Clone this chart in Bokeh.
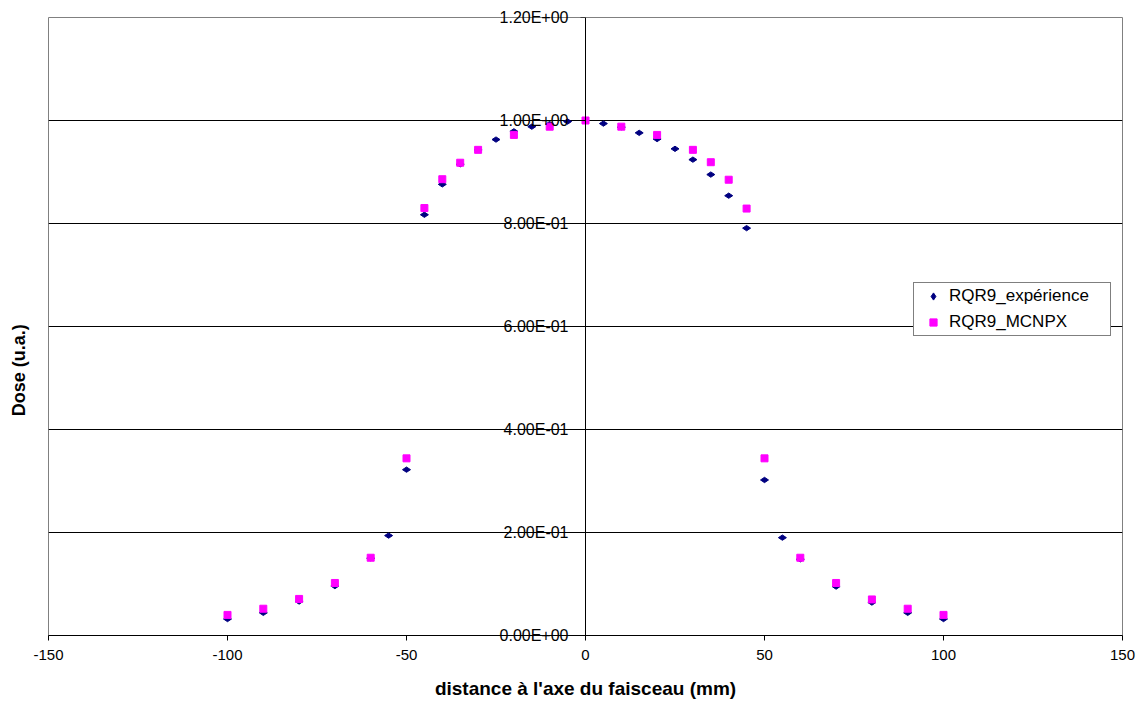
import math
from bokeh.plotting import figure
from bokeh.models import (Range1d, FixedTicker, Legend, LegendItem, Label, PrintfTickFormatter)
from bokeh.embed import file_html
from bokeh.resources import INLINE

# ---- data ----
exp_x = [-100, -90, -80, -70, -60, -55, -50, -45, -40, -35, -30, -25, -20, -15, -10, -5, 0,
         5, 10, 15, 20, 25, 30, 35, 40, 45, 50, 55, 60, 70, 80, 90, 100]
exp_y = [0.032, 0.044, 0.066, 0.096, 0.150, 0.194, 0.322, 0.817, 0.876, 0.915, 0.943, 0.963,
         0.979, 0.988, 0.993, 0.998, 1.000, 0.994, 0.987, 0.976, 0.964, 0.945, 0.924, 0.895,
         0.854, 0.791, 0.302, 0.190, 0.148, 0.095, 0.064, 0.044, 0.032]

mc_x = [-100, -90, -80, -70, -60, -50, -45, -40, -35, -30, -20, -10, 0,
        10, 20, 30, 35, 40, 45, 50, 60, 70, 80, 90, 100]
mc_y = [0.040, 0.052, 0.071, 0.102, 0.151, 0.344, 0.830, 0.886, 0.918, 0.943, 0.972, 0.988, 1.000,
        0.988, 0.972, 0.943, 0.919, 0.885, 0.829, 0.344, 0.151, 0.102, 0.070, 0.052, 0.040]

x_ticks = [-150, -100, -50, 0, 50, 100, 150]
y_ticks = [0.0, 0.2, 0.4, 0.6, 0.8, 1.0, 1.2]
grid_ticks = [0.2, 0.4, 0.6, 0.8, 1.0]
y_tick_labels = [f"{v:.2E}" for v in y_ticks]

series_names = ["RQR9_expérience", "RQR9_MCNPX"]
x_title = "distance à l'axe du faisceau (mm)"
y_title = "Dose (u.a.)"

FONT = "Liberation Sans"

p = figure(width=1139, height=702, output_backend="svg", toolbar_location=None,
           x_range=Range1d(-150, 150), y_range=Range1d(0, 1.2),
           min_border_left=48, min_border_right=17, min_border_top=17, min_border_bottom=67)

p.background_fill_color = "white"
p.border_fill_color = "white"
p.outline_line_color = "#808080"
p.outline_line_width = 1

# grid
p.xgrid.visible = False
p.ygrid.ticker = FixedTicker(ticks=grid_ticks)
p.ygrid.grid_line_color = "black"
p.ygrid.grid_line_width = 1

# x axis
xa = p.xaxis[0]
xa.ticker = FixedTicker(ticks=x_ticks)
xa.formatter = PrintfTickFormatter(format="%d")
xa.axis_line_color = "black"
xa.major_tick_line_color = "black"
xa.major_tick_in = 0
xa.major_tick_out = 5
xa.minor_tick_line_color = None
xa.major_label_text_font = FONT
xa.major_label_text_font_size = "15px"
xa.major_label_text_color = "black"
xa.major_label_standoff = 9
xa.axis_label = x_title
xa.axis_label_text_font = FONT
xa.axis_label_text_font_style = "bold"
xa.axis_label_text_font_size = "19px"
xa.axis_label_text_color = "black"
xa.axis_label_standoff = 15

# y axis crossing at x = 0
ya = p.yaxis[0]
ya.fixed_location = 0
ya.ticker = FixedTicker(ticks=y_ticks)
ya.axis_line_color = "black"
ya.major_tick_line_color = "black"
ya.major_tick_in = 0
ya.major_tick_out = 5
ya.minor_tick_line_color = None
ya.major_label_text_color = None

# y tick labels as a text glyph at overlay level (not clipped to the frame)
p.text(x=[0] * len(y_ticks), y=y_ticks, text=y_tick_labels, x_offset=-17,
       text_align="right", text_baseline="middle", text_font={"value": FONT},
       text_font_size="16px", text_color="black", level="overlay")

p.add_layout(Label(x=x_ticks[0], y=0.515, x_offset=-30, text=y_title, angle=math.pi / 2,
                   text_align="center", text_baseline="middle", text_font=FONT,
                   text_font_style="bold", text_font_size="18px", text_color="black"), "left")

r_exp = p.scatter(exp_x, exp_y, marker="diamond", size=8, angle=math.pi / 2,
                  fill_color="#000080", line_color="#000080")
r_mc = p.scatter(mc_x, mc_y, marker="square", size=7,
                 fill_color="#FF00FF", line_color="#FF00FF")

legend = Legend(items=[LegendItem(label=series_names[0], renderers=[r_exp]),
                       LegendItem(label=series_names[1], renderers=[r_mc])],
                location=(865, 299), padding=3, spacing=6, margin=0,
                label_height=18, glyph_height=18, glyph_width=32, label_standoff=0,
                label_width=158, label_text_font=FONT, label_text_font_size="17px",
                label_text_color="black", border_line_color="black", border_line_width=1,
                background_fill_color="white", background_fill_alpha=1)
p.add_layout(legend, "center")

open("out.html", "w").write(file_html(p, INLINE))
